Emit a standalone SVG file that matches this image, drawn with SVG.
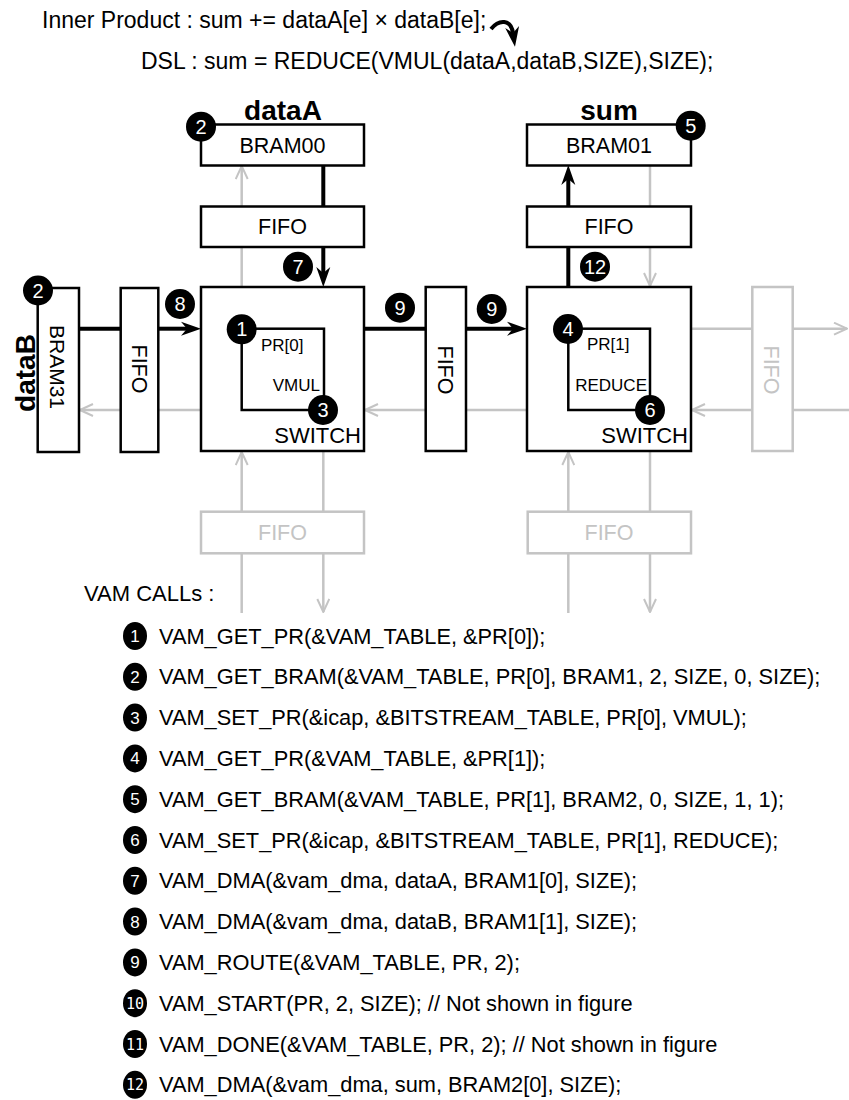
<svg xmlns="http://www.w3.org/2000/svg" width="849" height="1100" viewBox="0 0 849 1100">
<style>
.t{font-family:"Liberation Sans",Arial,Helvetica,sans-serif;fill:#000}
.b{font-weight:bold}
.box{fill:#fff;stroke:#000;stroke-width:2.5}
.fbox{fill:#fff;stroke:#c4c4c4;stroke-width:2.5}
.ft{fill:#c4c4c4}
.inner{fill:none;stroke:#000;stroke-width:2.5}
.g{stroke:#c4c4c4;stroke-width:2.5;fill:none}
.k{stroke:#000;stroke-width:4;fill:none}
.dot{fill:#000}
.n{font-family:"Liberation Sans",Arial,sans-serif;fill:#fff;font-size:20px;text-anchor:middle}
.ln{font-family:"Liberation Sans",Arial,sans-serif;fill:#fff;font-size:17px;text-anchor:middle}
.lm{font-family:"DejaVu Sans Mono",monospace;fill:#fff;font-size:15px;text-anchor:middle}
.li{font-size:21.8px}
</style>
<defs>
<marker id="ga" viewBox="0 0 16 14" refX="15" refY="7" markerWidth="16" markerHeight="14" markerUnits="userSpaceOnUse" orient="auto">
<path d="M2,1 L15,7 L2,13" fill="none" stroke="#c4c4c4" stroke-width="2"/>
</marker>
<marker id="ka" viewBox="0 0 20 16" refX="6" refY="8" markerWidth="20" markerHeight="16" markerUnits="userSpaceOnUse" orient="auto">
<path d="M0,1 L20,8 L0,15 L6,8 z" fill="#000"/>
</marker>
</defs>

<g id="header">
<text class="t" x="42" y="28" font-size="23">Inner Product : sum += dataA[e] × dataB[e];</text>
<text class="t" x="141" y="69" font-size="23">DSL : sum = REDUCE(VMUL(dataA,dataB,SIZE),SIZE);</text>
</g>

<g id="connectors">
<path class="k" d="M491,29 C499,19 511,19 513,33" marker-end="url(#ka)"/>
<line class="g" x1="241.7" y1="287" x2="241.7" y2="166" marker-end="url(#ga)"/>
<line class="g" x1="241.7" y1="613" x2="241.7" y2="452" marker-end="url(#ga)"/>
<line class="g" x1="323.3" y1="451" x2="323.3" y2="612" marker-end="url(#ga)"/>
<line class="g" x1="650" y1="165" x2="650" y2="286" marker-end="url(#ga)"/>
<line class="g" x1="568.3" y1="613" x2="568.3" y2="452" marker-end="url(#ga)"/>
<line class="g" x1="650" y1="451" x2="650" y2="612" marker-end="url(#ga)"/>
<line class="g" x1="691" y1="328.7" x2="847" y2="328.7" marker-end="url(#ga)"/>
<line class="g" x1="849" y1="410" x2="692" y2="410" marker-end="url(#ga)"/>
<line class="g" x1="527" y1="410" x2="365" y2="410" marker-end="url(#ga)"/>
<line class="g" x1="201" y1="410" x2="80" y2="410" marker-end="url(#ga)"/>
<line class="k" x1="323.3" y1="165" x2="323.3" y2="206.5"/>
<line class="k" x1="323.3" y1="247" x2="323.3" y2="273" marker-end="url(#ka)"/>
<line class="k" x1="568.3" y1="287" x2="568.3" y2="247"/>
<line class="k" x1="568.3" y1="206.5" x2="568.3" y2="179" marker-end="url(#ka)"/>
<line class="k" x1="79" y1="328.7" x2="120.7" y2="328.7"/>
<line class="k" x1="158.3" y1="328.7" x2="187" y2="328.7" marker-end="url(#ka)"/>
<line class="k" x1="364" y1="328.7" x2="425.7" y2="328.7"/>
<line class="k" x1="466" y1="328.7" x2="513" y2="328.7" marker-end="url(#ka)"/>
</g>

<g id="bram00">
<text class="t b" x="283" y="120" font-size="28" text-anchor="middle">dataA</text>
<rect class="box" x="201" y="124.5" width="163" height="41"/>
<text class="t" x="282.5" y="153" font-size="21.5" text-anchor="middle">BRAM00</text>
</g>
<g id="fifoA">
<rect class="box" x="201" y="206.5" width="163" height="40.5"/>
<text class="t" x="282.5" y="234" font-size="21.5" text-anchor="middle">FIFO</text>
</g>
<g id="bram01">
<text class="t b" x="609" y="120" font-size="28" text-anchor="middle">sum</text>
<rect class="box" x="527" y="124.5" width="164" height="41"/>
<text class="t" x="609" y="153" font-size="21.5" text-anchor="middle">BRAM01</text>
</g>
<g id="fifoS">
<rect class="box" x="527" y="206.5" width="164" height="40.5"/>
<text class="t" x="609" y="234" font-size="21.5" text-anchor="middle">FIFO</text>
</g>
<g id="bram31">
<text class="t b" transform="translate(35,373) rotate(-90)" font-size="28" text-anchor="middle">dataB</text>
<rect class="box" x="37.7" y="288" width="41.3" height="164"/>
<text class="t" transform="translate(50,367) rotate(90)" font-size="21" text-anchor="middle">BRAM31</text>
</g>
<g id="fifoL">
<rect class="box" x="120.7" y="288" width="37.6" height="164"/>
<text class="t" transform="translate(132,369) rotate(90)" font-size="21.5" text-anchor="middle">FIFO</text>
</g>
<g id="switch1">
<rect class="box" x="201" y="287" width="163" height="164"/>
<rect class="inner" x="241.7" y="328.7" width="82.3" height="81.3"/>
<text class="t" x="261" y="351" font-size="17">PR[0]</text>
<text class="t" x="320" y="391" font-size="17" text-anchor="end">VMUL</text>
<text class="t" x="361" y="443" font-size="22" text-anchor="end">SWITCH</text>
</g>
<g id="fifoM">
<rect class="box" x="425.7" y="287" width="40.3" height="164"/>
<text class="t" transform="translate(437.5,370) rotate(90)" font-size="21.5" text-anchor="middle">FIFO</text>
</g>
<g id="switch2">
<rect class="box" x="527" y="287" width="164" height="164"/>
<rect class="inner" x="568.3" y="328.7" width="81.7" height="81.3"/>
<text class="t" x="587" y="350" font-size="17">PR[1]</text>
<text class="t" x="647" y="391" font-size="17" text-anchor="end">REDUCE</text>
<text class="t" x="688" y="443" font-size="22" text-anchor="end">SWITCH</text>
</g>
<g id="fifoR">
<rect class="fbox" x="752.3" y="287" width="40.4" height="164"/>
<text class="t ft" transform="translate(764,370) rotate(90)" font-size="21.5" text-anchor="middle">FIFO</text>
</g>
<g id="fifoB1">
<rect class="fbox" x="201" y="511.7" width="163" height="41.6"/>
<text class="t ft" x="282.5" y="540" font-size="21.5" text-anchor="middle">FIFO</text>
</g>
<g id="fifoB2">
<rect class="fbox" x="527.7" y="511.7" width="163.3" height="41.6"/>
<text class="t ft" x="609" y="540" font-size="21.5" text-anchor="middle">FIFO</text>
</g>

<g id="markers">
<circle class="dot" cx="201" cy="126.7" r="15"/><text class="n" x="201" y="133.7">2</text>
<circle class="dot" cx="298" cy="266.7" r="15"/><text class="n" x="298" y="273.7">7</text>
<circle class="dot" cx="690.7" cy="125.7" r="15"/><text class="n" x="690.7" y="132.7">5</text>
<circle class="dot" cx="595" cy="266.7" r="15"/><text class="n" x="595" y="273.7">12</text>
<circle class="dot" cx="38" cy="290.5" r="15"/><text class="n" x="38" y="297.5">2</text>
<circle class="dot" cx="180" cy="304" r="15"/><text class="n" x="180" y="311">8</text>
<circle class="dot" cx="241.7" cy="329.3" r="15"/><text class="n" x="241.7" y="336.3">1</text>
<circle class="dot" cx="323" cy="410" r="15"/><text class="n" x="323" y="417">3</text>
<circle class="dot" cx="400" cy="307.7" r="15"/><text class="n" x="400" y="314.7">9</text>
<circle class="dot" cx="491.7" cy="309" r="15"/><text class="n" x="491.7" y="316">9</text>
<circle class="dot" cx="568" cy="329" r="15"/><text class="n" x="568" y="336">4</text>
<circle class="dot" cx="650" cy="410" r="15"/><text class="n" x="650" y="417">6</text>
</g>

<g id="vamcalls">
<text class="t" x="84" y="601" font-size="22">VAM CALLs :</text>
<ellipse class="dot" cx="135" cy="636" rx="12" ry="14"/><text class="ln" x="135" y="642">1</text>
<text class="t li" x="159" y="643.5">VAM_GET_PR(&amp;VAM_TABLE, &amp;PR[0]);</text>
<ellipse class="dot" cx="135" cy="676.8" rx="12" ry="14"/><text class="ln" x="135" y="682.8">2</text>
<text class="t li" x="159" y="684.3">VAM_GET_BRAM(&amp;VAM_TABLE, PR[0], BRAM1, 2, SIZE, 0, SIZE);</text>
<ellipse class="dot" cx="135" cy="717.6" rx="12" ry="14"/><text class="ln" x="135" y="723.6">3</text>
<text class="t li" x="159" y="725.1">VAM_SET_PR(&amp;icap, &amp;BITSTREAM_TABLE, PR[0], VMUL);</text>
<ellipse class="dot" cx="135" cy="758.4" rx="12" ry="14"/><text class="ln" x="135" y="764.4">4</text>
<text class="t li" x="159" y="765.9">VAM_GET_PR(&amp;VAM_TABLE, &amp;PR[1]);</text>
<ellipse class="dot" cx="135" cy="799.2" rx="12" ry="14"/><text class="ln" x="135" y="805.2">5</text>
<text class="t li" x="159" y="806.7">VAM_GET_BRAM(&amp;VAM_TABLE, PR[1], BRAM2, 0, SIZE, 1, 1);</text>
<ellipse class="dot" cx="135" cy="840" rx="12" ry="14"/><text class="ln" x="135" y="846">6</text>
<text class="t li" x="159" y="847.5">VAM_SET_PR(&amp;icap, &amp;BITSTREAM_TABLE, PR[1], REDUCE);</text>
<ellipse class="dot" cx="135" cy="880.8" rx="12" ry="14"/><text class="ln" x="135" y="886.8">7</text>
<text class="t li" x="159" y="888.3">VAM_DMA(&amp;vam_dma, dataA, BRAM1[0], SIZE);</text>
<ellipse class="dot" cx="135" cy="921.6" rx="12" ry="14"/><text class="ln" x="135" y="927.6">8</text>
<text class="t li" x="159" y="929.1">VAM_DMA(&amp;vam_dma, dataB, BRAM1[1], SIZE);</text>
<ellipse class="dot" cx="135" cy="962.4" rx="12" ry="14"/><text class="ln" x="135" y="968.4">9</text>
<text class="t li" x="159" y="969.9">VAM_ROUTE(&amp;VAM_TABLE, PR, 2);</text>
<ellipse class="dot" cx="135" cy="1003.2" rx="12" ry="14"/><text class="lm" x="135" y="1008.7">10</text>
<text class="t li" x="159" y="1010.7">VAM_START(PR, 2, SIZE); // Not shown in figure</text>
<ellipse class="dot" cx="135" cy="1044" rx="12" ry="14"/><text class="lm" x="135" y="1049.5">11</text>
<text class="t li" x="159" y="1051.5">VAM_DONE(&amp;VAM_TABLE, PR, 2); // Not shown in figure</text>
<ellipse class="dot" cx="135" cy="1084.8" rx="12" ry="14"/><text class="lm" x="135" y="1090.3">12</text>
<text class="t li" x="159" y="1092.3">VAM_DMA(&amp;vam_dma, sum, BRAM2[0], SIZE);</text>
</g>
</svg>
